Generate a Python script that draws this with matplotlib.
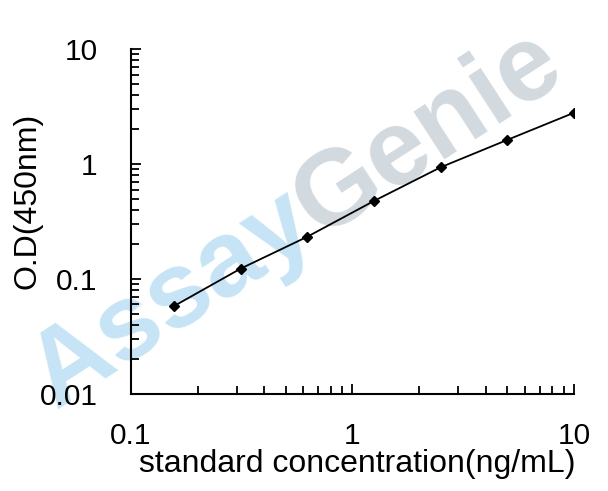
import numpy as np
import matplotlib.pyplot as plt
from matplotlib.ticker import LogLocator, FixedLocator, NullFormatter

plt.rcParams['font.family'] = ['Liberation Sans', 'DejaVu Sans']

# standard curve data
conc = [0.156, 0.3125, 0.625, 1.25, 2.5, 5, 10]
od = [0.058, 0.123, 0.233, 0.477, 0.936, 1.62, 2.79]
tick_vals_x = [0.1, 1, 10]
tick_vals_y = [0.01, 0.1, 1, 10]

fig = plt.figure(figsize=(6.08, 4.91), dpi=100)
ax = fig.add_axes([0.2155, 0.1976, 0.944 - 0.2155, 0.9002 - 0.1976])
ax.patch.set_alpha(0)

ax.plot(conc, od, color='black', lw=1.3, marker='D', markersize=5, zorder=3)

ax.set_xscale('log')
ax.set_yscale('log')
ax.set_xlim(0.1, 10)
ax.set_ylim(0.01, 10)
ax.xaxis.set_major_locator(FixedLocator(tick_vals_x))
ax.yaxis.set_major_locator(FixedLocator(tick_vals_y))
ax.set_xticklabels([str(v) if v < 1 else str(int(v)) for v in tick_vals_x])
ax.set_yticklabels([str(v) if v < 1 else str(int(v)) for v in tick_vals_y])
ax.xaxis.set_minor_locator(LogLocator(base=10, subs=np.arange(2, 10)))
ax.yaxis.set_minor_locator(LogLocator(base=10, subs=np.arange(2, 10)))
ax.xaxis.set_minor_formatter(NullFormatter())
ax.yaxis.set_minor_formatter(NullFormatter())

for side in ['top', 'right']:
    ax.spines[side].set_visible(False)
for side in ['left', 'bottom']:
    ax.spines[side].set_linewidth(1.5)

ax.tick_params(which='both', direction='in', width=1.3, labelsize=21.5,
               colors='black')
ax.tick_params(axis='y', pad=24)
ax.tick_params(axis='x', pad=20)
ax.tick_params(which='major', length=7)
ax.tick_params(which='minor', length=6)

ax.set_xlabel('standard concentration(ng/mL)', fontsize=23)
ax.set_ylabel('O.D(450nm)', fontsize=23)
ax.xaxis.set_label_coords(0.51, -0.16)
ax.yaxis.set_label_coords(-0.2, 0.56)

# watermark
ang = 33
fs = 77
c, s = np.cos(np.radians(ang)), np.sin(np.radians(ang))
x0, y0 = 55, 410
fig.text(x0 / 608, 1 - y0 / 491, 'Assay', fontsize=fs, fontweight='bold',
         color='#c6e4f5', rotation=ang, rotation_mode='anchor',
         ha='left', va='baseline', zorder=-1)
tmp = fig.text(0, 0, 'Assay', fontsize=fs, fontweight='bold')
fig.canvas.draw()
d = tmp.get_window_extent().width
tmp.remove()
fig.text((x0 + d * c) / 608, 1 - (y0 - d * s) / 491, 'Genie', fontsize=fs,
         fontweight='bold', color='#d2d9df', rotation=ang,
         rotation_mode='anchor', ha='left', va='baseline', zorder=-1)

fig.savefig('out.png', dpi=100)
